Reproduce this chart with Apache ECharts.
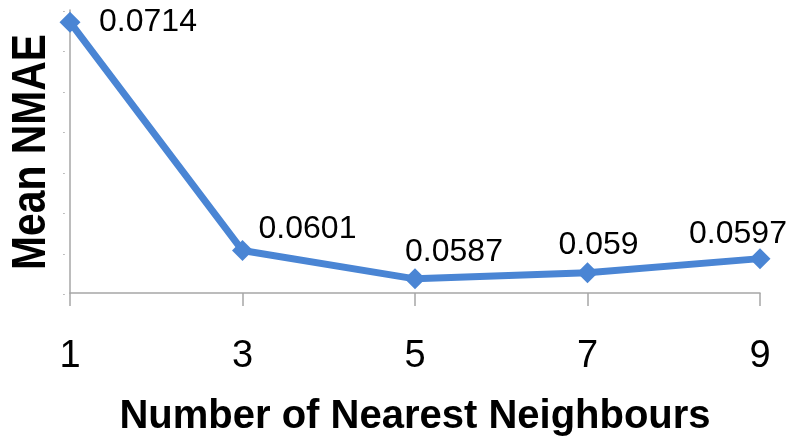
<!DOCTYPE html>
<html>
<head>
<meta charset="utf-8">
<script src="https://cdn.jsdelivr.net/npm/echarts@6/dist/echarts.min.js"></script>
<style>
  html, body { margin: 0; padding: 0; background: #fff; }
  #chart { width: 794px; height: 445px; }
</style>
</head>
<body>
<div id="chart"></div>
<script>
// Neighbour counts on the x axis and the mean NMAE for each
const neighbours = ['1', '3', '5', '7', '9'];
const meanNmae = [0.0714, 0.0601, 0.0587, 0.059, 0.0597];
const yMin = 0.058, yMax = 0.072, yStep = 0.002;

// Per-point label placement (pixel offsets from the marker)
const labelShift = [[78, 0], [65, -21], [39, -27], [11, -28], [-22, -24]];

const chart = echarts.init(document.getElementById('chart'), null, { renderer: 'canvas' });
const font = '"Liberation Sans", Arial, sans-serif';
const blue = '#4a85d4';

chart.setOption({
  animation: false,
  grid: { left: 70, right: 34, top: 10, bottom: 152, containLabel: false, outerBoundsMode: 'none' },
  // Condensed, rotated y-axis title
  graphic: [{
    type: 'text',
    silent: true,
    x: 32, y: 152,
    rotation: Math.PI / 2,
    scaleX: 0.85,
    style: {
      text: 'Mean NMAE',
      fontFamily: font, fontWeight: 'bold', fontSize: 48,
      fill: '#000',
      align: 'center', verticalAlign: 'middle'
    }
  }],
  xAxis: {
    type: 'category',
    data: neighbours,
    boundaryGap: false,
    name: 'Number of Nearest Neighbours',
    nameLocation: 'middle',
    nameGap: 104,
    nameTextStyle: { fontFamily: font, fontWeight: 'bold', fontSize: 40, color: '#000' },
    axisLine: { lineStyle: { color: '#a6a6a6', width: 1.5 } },
    axisTick: { alignWithLabel: true, length: 13, lineStyle: { color: '#a6a6a6', width: 1.5 } },
    axisLabel: { fontFamily: font, fontSize: 38, color: '#000', margin: 45 },
    splitLine: { show: false }
  },
  yAxis: {
    type: 'value',
    min: yMin, max: yMax, interval: yStep,
    axisLine: { show: true, lineStyle: { color: '#a6a6a6', width: 1.5 } },
    axisTick: { show: false },
    axisLabel: { formatter: () => '.', fontSize: 7, color: '#000', margin: 5 },
    splitLine: { show: false }
  },
  series: [{
    type: 'line',
    data: meanNmae.map((v, i) => ({
      value: v,
      label: { offset: labelShift[i] }
    })),
    lineStyle: { color: blue, width: 7 },
    itemStyle: { color: blue },
    symbol: 'diamond',
    symbolSize: 21,
    label: {
      show: true,
      position: 'inside',
      formatter: p => String(p.value),
      fontFamily: font,
      fontSize: 32,
      color: '#000'
    }
  }]
});
</script>
</body>
</html>
